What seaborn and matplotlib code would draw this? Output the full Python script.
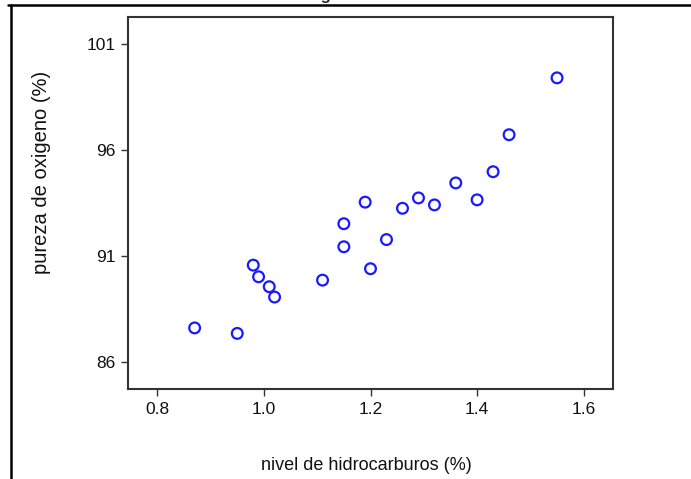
import matplotlib
matplotlib.use("Agg")
import matplotlib.pyplot as plt
from matplotlib.lines import Line2D
import seaborn as sns
import pandas as pd

# datos: nivel de hidrocarburos vs pureza de oxigeno
hidrocarburos = [0.99, 1.02, 1.15, 1.29, 1.46, 1.36, 0.87, 1.23, 1.55, 1.40,
                 1.19, 1.15, 0.98, 1.01, 1.11, 1.20, 1.26, 1.32, 1.43, 0.95]
pureza = [90.01, 89.05, 91.43, 93.74, 96.73, 94.45, 87.59, 91.77, 99.42, 93.65,
          93.54, 92.52, 90.56, 89.54, 89.85, 90.39, 93.25, 93.41, 94.98, 87.33]
x_ticks = [0.8, 1.0, 1.2, 1.4, 1.6]
y_ticks = [86, 91, 96, 101]

df = pd.DataFrame({"x": hidrocarburos, "y": pureza})

sns.set_style("white")
plt.rcParams['font.family'] = ['Liberation Sans', 'DejaVu Sans']

fig = plt.figure(figsize=(6.91, 4.79), dpi=100)
ax = fig.add_axes([128 / 691, 90 / 479, 485 / 691, 372 / 479])

sns.scatterplot(data=df, x="x", y="y", ax=ax, marker="o", s=60,
                facecolor="none", edgecolor="#1a1aff", linewidth=1.6)

ax.set_xlim(0.745, 1.655)
ax.set_ylim(84.7, 102.3)
ax.set_xticks(x_ticks)
ax.set_xticklabels([f"{t:.1f}" for t in x_ticks])
ax.set_yticks(y_ticks)
ax.tick_params(direction="out", length=5, width=1, color="#333333",
               labelsize=12.5, labelcolor="#111111", pad=4,
               bottom=True, left=True)
for s in ax.spines.values():
    s.set_color("#333333")
    s.set_linewidth(1.5)

ax.set_xlabel("nivel de hidrocarburos (%)", fontsize=13, color="#111111")
ax.set_ylabel("pureza de oxigeno (%)", fontsize=14.5, color="#111111")
ax.xaxis.set_label_coords((366 - 128) / 485, (389 - 465) / 372)
ax.xaxis.label.set_va("center")
ax.yaxis.set_label_coords((42 - 128) / 485, (389 - 172) / 372)
ax.yaxis.label.set_va("center")

# titulo recortado: solo asoma la parte inferior
fig.text(296 / 691, 1.0, "Diagrama", fontsize=12, fontweight="bold",
         ha="left", va="baseline")

# marco recortado de la imagen original
fig.add_artist(Line2D([8 / 691, 1.0], [1 - 5 / 479, 1 - 5 / 479],
                      color="black", linewidth=1.8, transform=fig.transFigure))
fig.add_artist(Line2D([11 / 691, 11 / 691], [0, 1 - 5 / 479],
                      color="black", linewidth=1.8, transform=fig.transFigure))

fig.savefig("out.png", dpi=100)
